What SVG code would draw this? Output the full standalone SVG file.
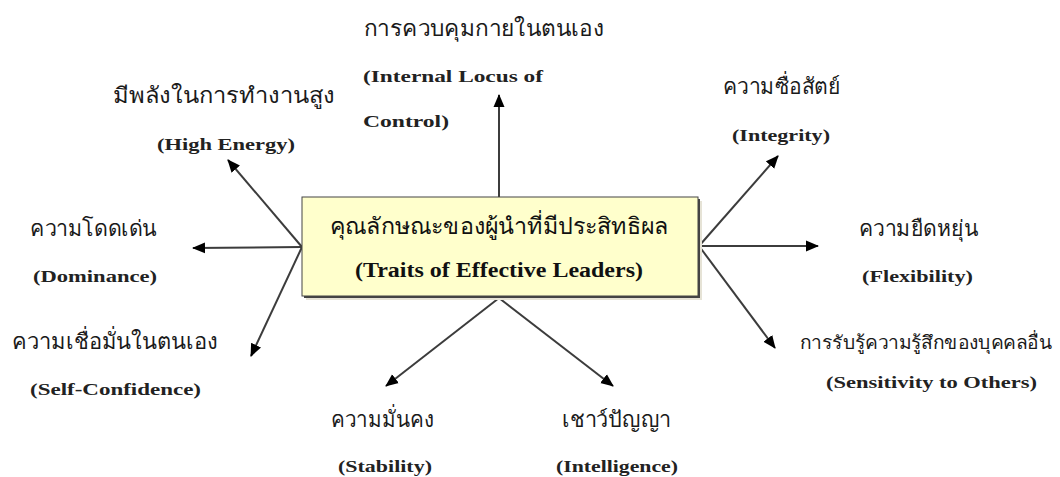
<svg xmlns="http://www.w3.org/2000/svg" width="1060" height="477" viewBox="0 0 1060 477">
  <style>
    .th { font-family: "Liberation Serif", "Noto Sans", serif; font-size: 22px; fill: #1a1a1a; }
    .th-long { font-size: 18.5px; }
    .en { font-family: "Liberation Serif", serif; font-size: 17px; font-weight: bold; fill: #222; }
    .title-th { font-family: "Liberation Serif", "Noto Sans", serif; font-size: 23px; fill: #111; }
    .title-en { font-family: "Liberation Serif", serif; font-size: 20px; font-weight: bold; fill: #111; }
    .conn { stroke: #3c3c3c; stroke-width: 2; fill: none; marker-end: url(#head); }
  </style>
  <defs>
    <!-- solid triangular arrowhead, tip at the line end -->
    <marker id="head" markerUnits="userSpaceOnUse" markerWidth="14" markerHeight="12" refX="12" refY="6" orient="auto">
      <path d="M0,0.5 L13,6 L0,11.5 Z" fill="#000"/>
    </marker>
  </defs>
  <rect width="1060" height="477" fill="#fff"/>

  <!-- connectors -->
  <g id="connectors">
    <line class="conn" x1="499" y1="197" x2="499" y2="95"/>
    <line class="conn" x1="302" y1="247" x2="228" y2="160"/>
    <line class="conn" x1="302" y1="247" x2="193" y2="248"/>
    <line class="conn" x1="302" y1="247" x2="251" y2="356"/>
    <line class="conn" x1="699" y1="246" x2="778" y2="156"/>
    <line class="conn" x1="699" y1="246" x2="818" y2="246"/>
    <line class="conn" x1="699" y1="246" x2="775" y2="348"/>
    <line class="conn" x1="499" y1="298" x2="386" y2="386"/>
    <line class="conn" x1="499" y1="298" x2="613" y2="386"/>
  </g>

  <!-- central box -->
  <g id="center">
    <rect x="306" y="201" width="396" height="99" fill="#e6e3d6"/>
    <rect x="304" y="199" width="396" height="99" fill="#444"/>
    <rect x="302" y="197" width="396" height="99" fill="#ffffcc" stroke="#444" stroke-width="1"/>
    <text class="title-th" x="330" y="234" textLength="338" lengthAdjust="spacingAndGlyphs">คุณลักษณะของผู้นำที่มีประสิทธิผล</text>
    <text class="title-en" x="355" y="277" textLength="288" lengthAdjust="spacingAndGlyphs">(Traits of Effective Leaders)</text>
  </g>

  <g id="locus">
    <text class="th" x="364" y="36" textLength="240" lengthAdjust="spacingAndGlyphs">การควบคุมกายในตนเอง</text>
    <text class="en" x="363" y="82" textLength="180" lengthAdjust="spacingAndGlyphs">(Internal Locus of</text>
    <text class="en" x="363" y="127" textLength="86" lengthAdjust="spacingAndGlyphs">Control)</text>
  </g>

  <g id="energy">
    <text class="th" x="113" y="103" textLength="222" lengthAdjust="spacingAndGlyphs">มีพลังในการทำงานสูง</text>
    <text class="en" x="157" y="150" textLength="138" lengthAdjust="spacingAndGlyphs">(High Energy)</text>
  </g>

  <g id="integrity">
    <text class="th" x="723" y="94" textLength="117" lengthAdjust="spacingAndGlyphs">ความซื่อสัตย์</text>
    <text class="en" x="732" y="141" textLength="98" lengthAdjust="spacingAndGlyphs">(Integrity)</text>
  </g>

  <g id="dominance">
    <text class="th" x="30" y="236" textLength="127" lengthAdjust="spacingAndGlyphs">ความโดดเด่น</text>
    <text class="en" x="33" y="282" textLength="124" lengthAdjust="spacingAndGlyphs">(Dominance)</text>
  </g>

  <g id="flexibility">
    <text class="th" x="859" y="236" textLength="119" lengthAdjust="spacingAndGlyphs">ความยืดหยุ่น</text>
    <text class="en" x="862" y="282" textLength="111" lengthAdjust="spacingAndGlyphs">(Flexibility)</text>
  </g>

  <g id="confidence">
    <text class="th" x="12" y="349" textLength="206" lengthAdjust="spacingAndGlyphs">ความเชื่อมั่นในตนเอง</text>
    <text class="en" x="30" y="395" textLength="171" lengthAdjust="spacingAndGlyphs">(Self-Confidence)</text>
  </g>

  <g id="sensitivity">
    <text class="th th-long" x="800" y="349" textLength="252" lengthAdjust="spacingAndGlyphs">การรับรู้ความรู้สึกของบุคคลอื่น</text>
    <text class="en" x="826" y="388" textLength="211" lengthAdjust="spacingAndGlyphs">(Sensitivity to Others)</text>
  </g>

  <g id="stability">
    <text class="th" x="331" y="427" textLength="103" lengthAdjust="spacingAndGlyphs">ความมั่นคง</text>
    <text class="en" x="338" y="472" textLength="94" lengthAdjust="spacingAndGlyphs">(Stability)</text>
  </g>

  <g id="intelligence">
    <text class="th" x="562" y="427" textLength="109" lengthAdjust="spacingAndGlyphs">เชาว์ปัญญา</text>
    <text class="en" x="556" y="472" textLength="122" lengthAdjust="spacingAndGlyphs">(Intelligence)</text>
  </g>
</svg>
